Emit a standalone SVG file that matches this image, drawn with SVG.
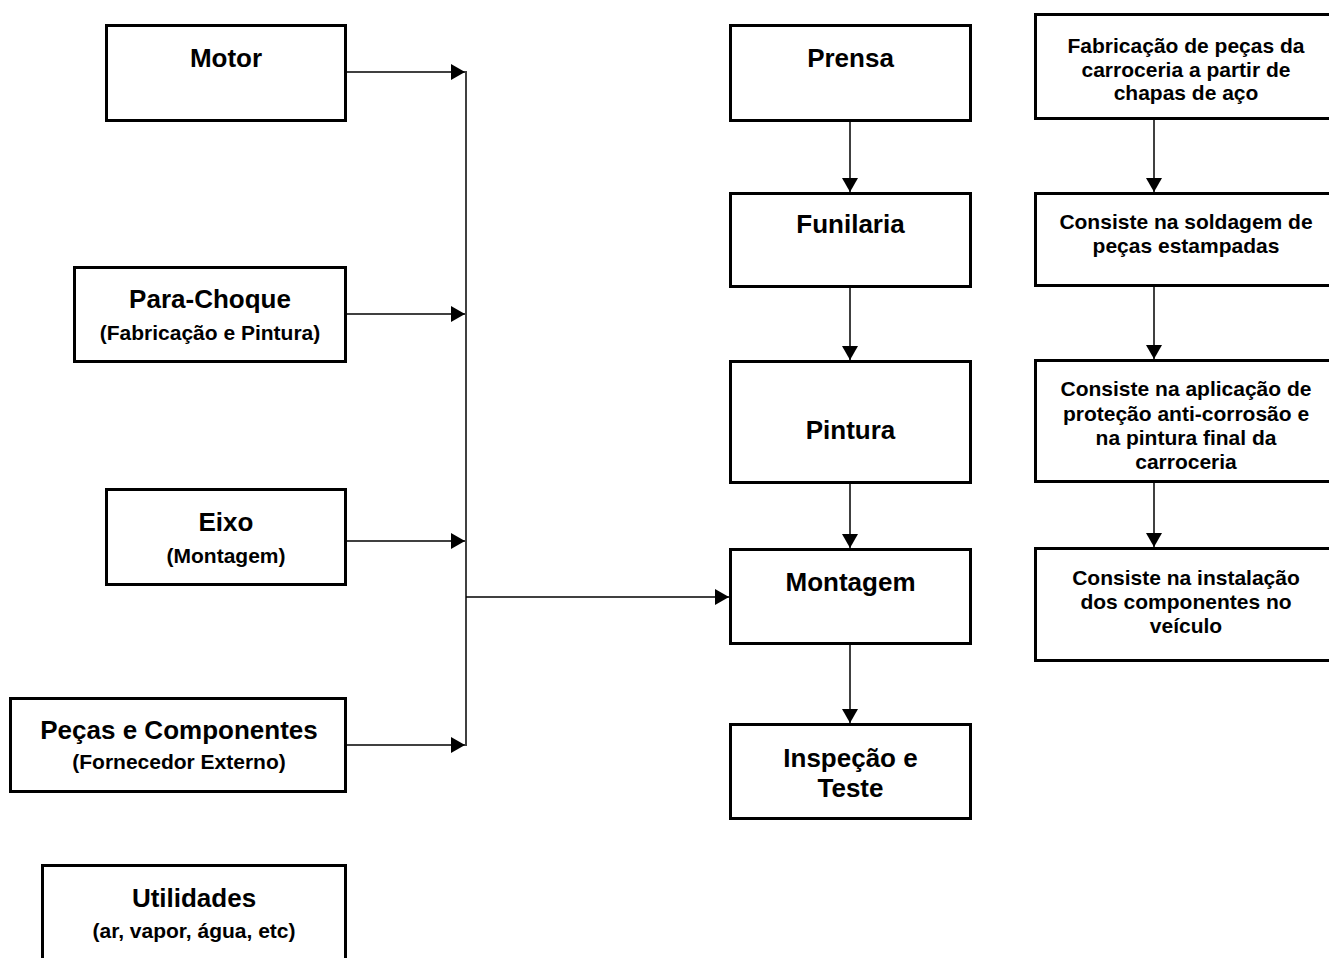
<svg xmlns="http://www.w3.org/2000/svg" width="1329" height="958" viewBox="0 0 1329 958">
<defs>
<style>
.box{fill:#fff;stroke:#000;stroke-width:3}
.t{font-family:"Liberation Sans",Arial,sans-serif;font-weight:bold;fill:#000;text-anchor:middle}
.h{font-size:26px}
.s{font-size:21px}
.d{font-size:21px}
.c{fill:none;stroke:#000;stroke-width:1.5}
.a{marker-end:url(#arr)}
</style>
<marker id="arr" markerUnits="userSpaceOnUse" markerWidth="14" markerHeight="16" refX="14" refY="8" orient="auto" viewBox="0 0 14 16">
<path d="M0,0 L14,8 L0,16 Z" fill="#000"/>
</marker>
</defs>
<rect width="1329" height="958" fill="#fff"/>

<g id="connectors">
<line class="c a" x1="347" y1="72" x2="465" y2="72"/>
<line class="c a" x1="347" y1="314" x2="465" y2="314"/>
<line class="c a" x1="347" y1="541" x2="465" y2="541"/>
<line class="c a" x1="347" y1="745" x2="465" y2="745"/>
<line class="c" x1="466" y1="71" x2="466" y2="746"/>
<line class="c a" x1="466" y1="597" x2="729" y2="597"/>
<line class="c a" x1="850" y1="122" x2="850" y2="192"/>
<line class="c a" x1="850" y1="288" x2="850" y2="360"/>
<line class="c a" x1="850" y1="484" x2="850" y2="548"/>
<line class="c a" x1="850" y1="645" x2="850" y2="723"/>
<line class="c a" x1="1154" y1="120" x2="1154" y2="192"/>
<line class="c a" x1="1154" y1="287" x2="1154" y2="359"/>
<line class="c a" x1="1154" y1="483" x2="1154" y2="547"/>
</g>

<g id="motor">
<rect class="box" x="106.5" y="25.5" width="239" height="95"/>
<text class="t h" x="226" y="67">Motor</text>
</g>
<g id="para-choque">
<rect class="box" x="74.5" y="267.5" width="271" height="94"/>
<text class="t h" x="210" y="308">Para-Choque</text>
<text class="t s" x="210" y="340">(Fabricação e Pintura)</text>
</g>
<g id="eixo">
<rect class="box" x="106.5" y="489.5" width="239" height="95"/>
<text class="t h" x="226" y="531">Eixo</text>
<text class="t s" x="226" y="563">(Montagem)</text>
</g>
<g id="pecas">
<rect class="box" x="10.5" y="698.5" width="335" height="93"/>
<text class="t h" x="179" y="739">Peças e Componentes</text>
<text class="t s" x="179" y="769">(Fornecedor Externo)</text>
</g>
<g id="utilidades">
<rect class="box" x="42.5" y="865.5" width="303" height="120"/>
<text class="t h" x="194" y="907">Utilidades</text>
<text class="t s" x="194" y="938">(ar, vapor, água, etc)</text>
</g>

<g id="prensa">
<rect class="box" x="730.5" y="25.5" width="240" height="95"/>
<text class="t h" x="850.5" y="67">Prensa</text>
</g>
<g id="funilaria">
<rect class="box" x="730.5" y="193.5" width="240" height="93"/>
<text class="t h" x="850.5" y="233">Funilaria</text>
</g>
<g id="pintura">
<rect class="box" x="730.5" y="361.5" width="240" height="121"/>
<text class="t h" x="850.5" y="439">Pintura</text>
</g>
<g id="montagem">
<rect class="box" x="730.5" y="549.5" width="240" height="94"/>
<text class="t h" x="850.5" y="591">Montagem</text>
</g>
<g id="inspecao">
<rect class="box" x="730.5" y="724.5" width="240" height="94"/>
<text class="t h" x="850.5" y="767">Inspeção e</text>
<text class="t h" x="850.5" y="797">Teste</text>
</g>

<g id="desc-prensa">
<rect class="box" x="1035.5" y="14.5" width="300" height="104"/>
<text class="t d" x="1186" y="53">Fabricação de peças da</text>
<text class="t d" x="1186" y="77">carroceria a partir de</text>
<text class="t d" x="1186" y="100">chapas de aço</text>
</g>
<g id="desc-funilaria">
<rect class="box" x="1035.5" y="193.5" width="300" height="92"/>
<text class="t d" x="1186" y="229">Consiste na soldagem de</text>
<text class="t d" x="1186" y="253">peças estampadas</text>
</g>
<g id="desc-pintura">
<rect class="box" x="1035.5" y="360.5" width="300" height="121"/>
<text class="t d" x="1186" y="396">Consiste na aplicação de</text>
<text class="t d" x="1186" y="421">proteção anti-corrosão e</text>
<text class="t d" x="1186" y="445">na pintura final da</text>
<text class="t d" x="1186" y="469">carroceria</text>
</g>
<g id="desc-montagem">
<rect class="box" x="1035.5" y="548.5" width="300" height="112"/>
<text class="t d" x="1186" y="585">Consiste na instalação</text>
<text class="t d" x="1186" y="609">dos componentes no</text>
<text class="t d" x="1186" y="633">veículo</text>
</g>
</svg>
